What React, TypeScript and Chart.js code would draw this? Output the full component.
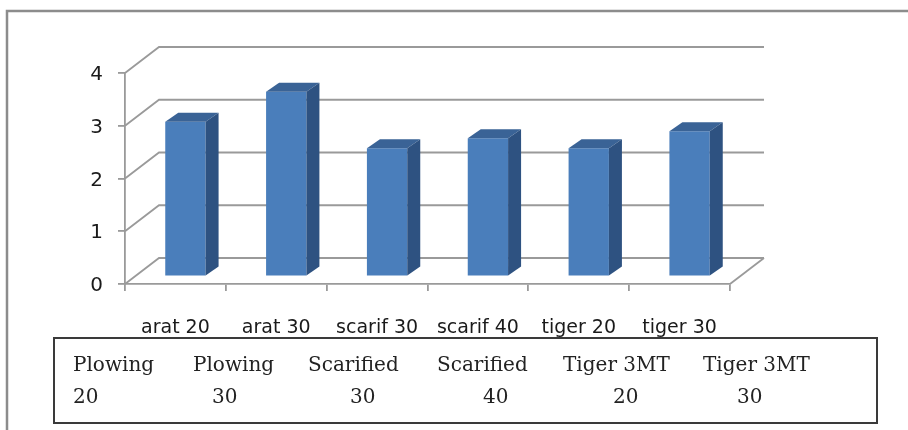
import React, { useEffect, useRef } from "react";
import { Chart, registerables } from "chart.js";

Chart.register(...registerables);

// ---- data ----
const categories = ["arat 20", "arat 30", "scarif 30", "scarif 40", "tiger 20", "tiger 30"];
const values = [2.93, 3.5, 2.43, 2.62, 2.43, 2.75];
const yTicks = [0, 1, 2, 3, 4];
const legendNames = ["Plowing", "Plowing", "Scarified", "Scarified", "Tiger 3MT", "Tiger 3MT"];
const legendDepths = ["20", "30", "30", "40", "20", "30"];

// ---- layout / style ----
const NAME_X = [73, 193, 308, 437, 563, 703];
const DEPTH_X = [73, 212, 350, 483, 613, 737];
const WALL_DX = 34;
const WALL_DY = -26;
const BAR_SHIFT_X = 10;
const BAR_SHIFT_Y = -7.6;
const BAR_DX = 13;
const BAR_DY = -9;
const GRID = "#9a9a9a";
const FRONT = "#4a7ebb";
const TOP = "#3a6396";
const SIDE = "#2e5281";

const excel3d = {
  id: "excel3d",
  beforeDraw(chart: any) {
    const ctx = chart.ctx;
    ctx.save();
    // outer frame
    ctx.strokeStyle = "#8c8c8c";
    ctx.lineWidth = 2.5;
    ctx.beginPath();
    ctx.moveTo(7, 432);
    ctx.lineTo(7, 11);
    ctx.lineTo(910, 11);
    ctx.stroke();
    // data-table box
    ctx.strokeStyle = "#3a3a3a";
    ctx.lineWidth = 2;
    ctx.strokeRect(54, 338, 823, 85);
    ctx.font = '20px "DejaVu Serif"';
    ctx.fillStyle = "#222";
    ctx.textBaseline = "alphabetic";
    ctx.textAlign = "left";
    legendNames.forEach((t, i) => ctx.fillText(t, NAME_X[i], 371));
    legendDepths.forEach((t, i) => ctx.fillText(t, DEPTH_X[i], 403));
    // back wall + left wall
    const { left, right } = chart.chartArea;
    const ys = chart.scales.y;
    ctx.strokeStyle = GRID;
    ctx.lineWidth = 1.8;
    yTicks.forEach((v) => {
      const py = ys.getPixelForValue(v);
      ctx.beginPath();
      ctx.moveTo(left, py);
      ctx.lineTo(left + WALL_DX, py + WALL_DY);
      ctx.lineTo(right + WALL_DX, py + WALL_DY);
      ctx.stroke();
    });
    const y0 = ys.getPixelForValue(0);
    ctx.beginPath();
    ctx.moveTo(right, y0);
    ctx.lineTo(right + WALL_DX, y0 + WALL_DY);
    ctx.stroke();
    ctx.restore();
  },
  beforeDatasetsDraw(chart: any) {
    chart.ctx.save();
    chart.ctx.translate(BAR_SHIFT_X, BAR_SHIFT_Y);
  },
  afterDatasetsDraw(chart: any) {
    const ctx = chart.ctx;
    chart.getDatasetMeta(0).data.forEach((bar: any) => {
      const { x, y, base, width } = bar.getProps(["x", "y", "base", "width"], true);
      const l = x - width / 2;
      const r = x + width / 2;
      ctx.fillStyle = TOP;
      ctx.beginPath();
      ctx.moveTo(l, y);
      ctx.lineTo(r, y);
      ctx.lineTo(r + BAR_DX, y + BAR_DY);
      ctx.lineTo(l + BAR_DX, y + BAR_DY);
      ctx.closePath();
      ctx.fill();
      ctx.fillStyle = SIDE;
      ctx.beginPath();
      ctx.moveTo(r, y);
      ctx.lineTo(r + BAR_DX, y + BAR_DY);
      ctx.lineTo(r + BAR_DX, base + BAR_DY);
      ctx.lineTo(r, base);
      ctx.closePath();
      ctx.fill();
    });
    ctx.restore();
  },
};

export default function App() {
  const ref = useRef<HTMLCanvasElement>(null);
  useEffect(() => {
    document.body.style.margin = "0";
    document.body.style.overflow = "hidden";
    const chart = new Chart(ref.current!, {
      type: "bar",
      data: {
        labels: categories,
        datasets: [
          {
            data: values,
            backgroundColor: FRONT,
            borderWidth: 0,
            categoryPercentage: 1,
            barPercentage: 0.4,
          },
        ],
      },
      options: {
        animation: false,
        responsive: false,
        events: [],
        layout: { padding: { left: 85, right: 178, top: 73, bottom: 76 } },
        plugins: { legend: { display: false }, tooltip: { enabled: false } },
        scales: {
          x: {
            type: "category",
            offset: true,
            afterFit: (s: any) => {
              s.height = 70;
            },
            grid: {
              display: true,
              drawOnChartArea: false,
              drawTicks: true,
              tickLength: 7,
              color: GRID,
              lineWidth: 1.8,
              offset: true,
            },
            border: { display: true, color: GRID, width: 1.8 },
            ticks: {
              font: { family: "DejaVu Sans", size: 19 },
              color: "#1a1a1a",
              padding: 26,
              maxRotation: 0,
              autoSkip: false,
            },
          },
          y: {
            min: 0,
            max: 4,
            afterFit: (s: any) => {
              s.width = 40;
            },
            grid: {
              display: true,
              drawOnChartArea: false,
              drawTicks: true,
              tickLength: 7,
              color: GRID,
              lineWidth: 1.8,
            },
            border: { display: true, color: GRID, width: 1.8 },
            afterBuildTicks: (s: any) => {
              s.ticks = yTicks.map((v) => ({ value: v }));
            },
            ticks: {
              font: { family: "DejaVu Sans", size: 20 },
              color: "#1a1a1a",
              padding: 15,
              labelOffset: 2,
            },
          },
        },
      },
      plugins: [excel3d],
    });
    return () => chart.destroy();
  }, []);
  return (
    <div style={{ position: "relative", width: 908, height: 430, background: "#fff" }}>
      <canvas ref={ref} width={908} height={430} style={{ display: "block" }} />
    </div>
  );
}
